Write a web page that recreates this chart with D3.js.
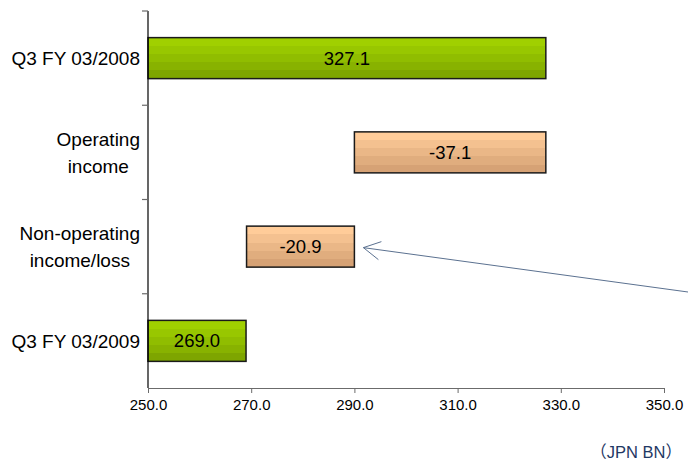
<!DOCTYPE html>
<html>
<head>
<meta charset="utf-8">
<script src="https://cdn.jsdelivr.net/npm/d3@7"></script>
<style>
  html, body { margin: 0; padding: 0; background: #fff; }
  svg { display: block; font-family: "Liberation Sans", Arial, sans-serif; }
</style>
</head>
<body>
<svg id="chart" width="688" height="468"></svg>
<script>
// Waterfall of ordinary income (JPN BN)
const categories = [
  ["Q3 FY 03/2008"],
  ["Operating", "income"],
  ["Non-operating", "income/loss"],
  ["Q3 FY 03/2009"]
];
const values = [327.1, -37.1, -20.9, 269.0];
const kinds = ["total", "delta", "delta", "total"];
const xTicks = [250, 270, 290, 310, 330, 350];
const unitLabel = "（JPN BN）";

const svg = d3.select("#chart");
const margin = { left: 148, top: 11 };
const axisY = 388;

const x = d3.scaleLinear().domain([250, 350]).range([margin.left, 664]);
const y = d3.scaleBand()
  .domain(d3.range(categories.length))
  .range([margin.top, axisY])
  .paddingInner(0.565)
  .paddingOuter(0.2825);

// Floating bar extents
let running = 0;
const bars = values.map((v, i) => {
  let lo, hi;
  if (kinds[i] === "total") {
    lo = x.domain()[0]; hi = v; running = v;
  } else {
    const next = running + v;
    lo = Math.min(running, next); hi = Math.max(running, next); running = next;
  }
  return { i, v, lo, hi, kind: kinds[i] };
});

// Striped gradients
const defs = svg.append("defs");
function stripes(id, colors) {
  const g = defs.append("linearGradient").attr("id", id)
    .attr("x1", 0).attr("y1", 0).attr("x2", 0).attr("y2", 1);
  const n = colors.length;
  colors.forEach((c, k) => {
    g.append("stop").attr("offset", k / n).attr("stop-color", c);
    g.append("stop").attr("offset", (k + 1) / n).attr("stop-color", c);
  });
}
stripes("gGreen", ["#a0d000", "#98c700", "#90bd00", "#88b200", "#7ea500"]);
stripes("gPeach", ["#ffcc99", "#f4c190", "#eab787", "#e0ad7e", "#d6a275"]);

// Bars
svg.append("g").selectAll("rect").data(bars).join("rect")
  .attr("x", d => x(d.lo))
  .attr("y", d => y(d.i))
  .attr("width", d => x(d.hi) - x(d.lo))
  .attr("height", y.bandwidth())
  .attr("fill", d => d.kind === "total" ? "url(#gGreen)" : "url(#gPeach)")
  .attr("stroke", "#1a1a1a")
  .attr("stroke-width", 1.5);

// Value labels
svg.append("g").selectAll("text").data(bars).join("text")
  .attr("x", d => (x(d.lo) + x(d.hi)) / 2)
  .attr("y", d => y(d.i) + y.bandwidth() / 2)
  .attr("dy", "0.35em")
  .attr("text-anchor", "middle")
  .attr("font-size", 18.5)
  .attr("fill", "#000")
  .text(d => d.v.toFixed(1));

// X axis
const xAxis = svg.append("g")
  .attr("transform", `translate(0,${axisY})`)
  .call(d3.axisBottom(x).tickValues(xTicks).tickFormat(d3.format(".1f")).tickSizeInner(5).tickSizeOuter(0));
xAxis.select(".domain").attr("stroke", "#6b6b6b").attr("stroke-width", 1.2);
xAxis.selectAll(".tick line").attr("stroke", "#6b6b6b");
xAxis.selectAll(".tick text")
  .attr("font-size", 15).attr("font-family", "Liberation Sans, Arial, sans-serif")
  .attr("fill", "#000").attr("dy", "0.95em");

// Y axis: vertical line with separator ticks between categories
const yEdges = d3.range(categories.length + 1).map(k =>
  margin.top + k * (axisY - margin.top) / categories.length);
svg.append("line")
  .attr("x1", margin.left).attr("x2", margin.left)
  .attr("y1", margin.top).attr("y2", axisY)
  .attr("stroke", "#000").attr("stroke-width", 1.2);
svg.append("g").selectAll("line").data(yEdges.slice(0, -1)).join("line")
  .attr("x1", margin.left - 6).attr("x2", margin.left)
  .attr("y1", d => d).attr("y2", d => d)
  .attr("stroke", "#6b6b6b").attr("stroke-width", 1.2);

// Category labels (multi-line labels centred on their widest line)
const lineH = 27;
const catG = svg.append("g").selectAll("text").data(categories).join("text")
  .attr("font-size", 19)
  .attr("fill", "#000");
catG.each(function (lines, i) {
  const cy = y(i) + y.bandwidth() / 2;
  const t = d3.select(this);
  lines.forEach((s, k) => {
    t.append("tspan")
      .attr("x", 140)
      .attr("text-anchor", "end")
      .attr("y", cy + (k - (lines.length - 1) / 2) * lineH)
      .attr("dy", "0.35em")
      .text(s);
  });
});
catG.each(function (lines) {
  if (lines.length < 2) return;
  const spans = d3.select(this).selectAll("tspan").nodes();
  const maxW = d3.max(spans, n => n.getComputedTextLength());
  spans.forEach(n => {
    d3.select(n).attr("text-anchor", "middle").attr("x", 140 - maxW / 2);
  });
});

// Callout arrow pointing at the non-operating bar
const tipX = x(bars[2].hi) + 9, tipY = y(2) + y.bandwidth() / 2 + 1;
const arrowColor = "#5b7190";
svg.append("line")
  .attr("x1", 688).attr("y1", 292)
  .attr("x2", tipX).attr("y2", tipY)
  .attr("stroke", arrowColor).attr("stroke-width", 1);
svg.append("path")
  .attr("d", `M${tipX + 18},${tipY - 6} L${tipX},${tipY} L${tipX + 15},${tipY + 12}`)
  .attr("fill", "none").attr("stroke", arrowColor).attr("stroke-width", 1);

// Unit note
svg.append("text")
  .attr("x", 682).attr("y", 458)
  .attr("text-anchor", "end")
  .attr("font-size", 16.5)
  .attr("font-family", "Liberation Sans, 'Noto Sans CJK JP', sans-serif")
  .attr("fill", "#1f3864")
  .text(unitLabel);
</script>
</body>
</html>
